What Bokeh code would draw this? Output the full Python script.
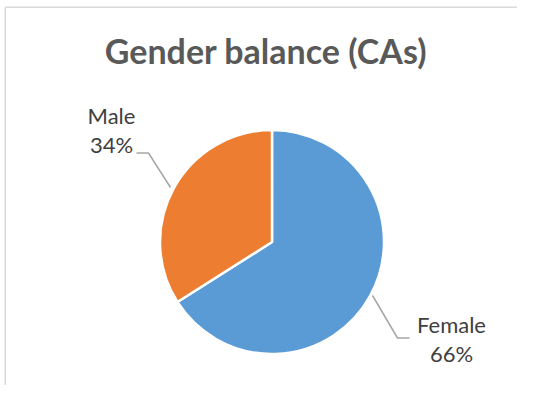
import numpy as np
from bokeh.plotting import figure
from bokeh.models import Range1d
from bokeh.core.properties import value
from bokeh.embed import file_html
from bokeh.resources import INLINE

# ---- data ----
title_text = "Gender balance (CAs)"
categories = ["Female", "Male"]
shares = [66, 34]
colors = ["#5B9BD5", "#ED7D31"]

W, H = 517, 385
p = figure(width=W, height=H, x_range=Range1d(0, W), y_range=Range1d(0, H),
           output_backend="svg", toolbar_location=None, min_border=0)
p.axis.visible = False
p.grid.visible = False
p.outline_line_color = None
p.background_fill_color = "white"
p.border_fill_color = "white"


def X(px):
    return px


def Y(py):
    return H - py


# frame (left + top edges only)
p.line(x=[X(4.75), X(4.75)], y=[Y(420), Y(6.75)], line_color="#D9D9D9", line_width=1.5)
p.line(x=[X(4.75), X(540)], y=[Y(6.75), Y(6.75)], line_color="#D9D9D9", line_width=1.5)

# pie
frac = np.array(shares, dtype=float) / sum(shares)
cum = np.concatenate([[0.0], np.cumsum(frac)])
starts = np.pi / 2 - cum[1:] * 2 * np.pi
ends = np.pi / 2 - cum[:-1] * 2 * np.pi
cx, cy, r = X(271.5), Y(241.5), 112
p.wedge(x=[cx] * len(shares), y=[cy] * len(shares), radius=r,
        start_angle=list(starts), end_angle=list(ends), direction="anticlock",
        fill_color=colors, line_color="white", line_width=2.5)

# title (baseline compensation ~0.48em)
ts = 34
p.text(x=[X(265.5)], y=[Y(66 - 0.48 * ts)], text=[title_text], text_font=value("Lato"),
       text_font_size=f"{ts}px", text_font_style="bold", text_color="#595959",
       text_align="center", text_baseline="alphabetic")

# leader lines
lead = "#A6A6A6"
p.line(x=[X(136), X(148), X(170)], y=[Y(152.5), Y(152.5), Y(187)], line_color=lead, line_width=1.5)
p.line(x=[X(372), X(397), X(409)], y=[Y(295), Y(337.5), Y(337.5)], line_color=lead, line_width=1.5)

# data labels
ls = 22
off = 0.48 * ls - 2
lab_x = [X(451), X(111)]
name_y = [Y(333 - off), Y(124 - off)]
pct_y = [Y(362 - off), Y(153 - off)]
p.text(x=lab_x, y=name_y, text=categories, text_font=value("Lato"), text_font_size=f"{ls}px",
       text_color="#404040", text_align="center", text_baseline="alphabetic")
p.text(x=lab_x, y=pct_y, text=[f"{s}%" for s in shares], text_font=value("Lato"),
       text_font_size=f"{ls}px", text_color="#404040", text_align="center", text_baseline="alphabetic")

open("out.html", "w").write(file_html(p, INLINE))
